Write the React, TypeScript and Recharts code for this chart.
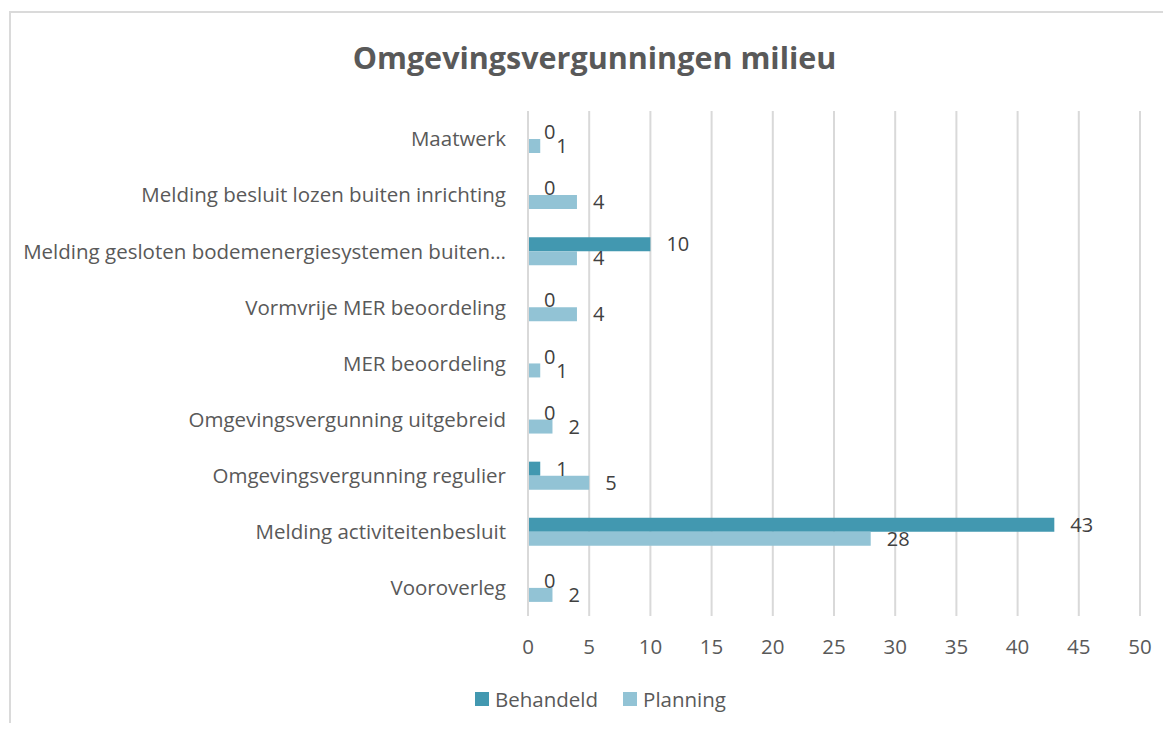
import { BarChart, Bar, XAxis, YAxis, CartesianGrid, LabelList } from 'recharts'

const categories = [
  'Maatwerk',
  'Melding besluit lozen buiten inrichting',
  'Melding gesloten bodemenergiesystemen buiten…',
  'Vormvrije MER beoordeling',
  'MER beoordeling',
  'Omgevingsvergunning uitgebreid',
  'Omgevingsvergunning regulier',
  'Melding activiteitenbesluit',
  'Vooroverleg',
]
const behandeld = [0, 0, 10, 0, 0, 0, 1, 43, 0]
const planning = [1, 4, 4, 4, 1, 2, 5, 28, 2]
const xTicks = [0, 5, 10, 15, 20, 25, 30, 35, 40, 45, 50]

const data = categories.map((name, i) => ({ name, behandeld: behandeld[i], planning: planning[i] }))

const FONT = '"Open Sans", sans-serif'
const C_BEH = '#4298b0'
const C_PLAN = '#92c3d5'

export default function App() {
  return (
    <div style={{ position: 'relative', width: 1155, height: 715, overflow: 'hidden', fontFamily: FONT }}>
      <div
        style={{
          position: 'absolute',
          left: 1,
          top: 3,
          width: 1200,
          height: 800,
          border: '2px solid #dadada',
          boxSizing: 'border-box',
        }}
      />
      <div
        style={{
          position: 'absolute',
          left: -8,
          top: 29,
          width: 1189,
          textAlign: 'center',
          fontSize: 30.5,
          fontWeight: 700,
          color: '#595959',
          lineHeight: '40px',
        }}
      >
        Omgevingsvergunningen milieu
      </div>
      <div style={{ position: 'absolute', left: -8, top: -8 }}>
        <BarChart
          width={1171}
          height={731}
          data={data}
          layout="vertical"
          margin={{ top: 111, right: 31, bottom: 85, left: 8 }}
          barSize={14}
          barGap={0}
        >
          <CartesianGrid horizontal={false} stroke="#d9d9d9" strokeWidth={2} />
          <XAxis
            type="number"
            domain={[0, 50]}
            ticks={xTicks}
            axisLine={false}
            tickLine={false}
            tickSize={6}
            tickMargin={17}
            height={30}
            tick={{ fill: '#595959', fontSize: 20.5, fontFamily: FONT }}
          />
          <YAxis
            type="category"
            dataKey="name"
            width={520}
            axisLine={{ stroke: '#d9d9d9', strokeWidth: 2 }}
            tickLine={false}
            tickSize={6}
            tickMargin={16}
            interval={0}
            tick={{ fill: '#595959', fontSize: 20.5, fontFamily: FONT }}
          />
          <Bar dataKey="behandeld" fill={C_BEH} minPointSize={0.01} isAnimationActive={false}>
            <LabelList dataKey="behandeld" position="right" offset={16} fill="#404040" fontSize={20} fontFamily={FONT} />
          </Bar>
          <Bar dataKey="planning" fill={C_PLAN} minPointSize={0.01} isAnimationActive={false}>
            <LabelList dataKey="planning" position="right" offset={16} fill="#404040" fontSize={20} fontFamily={FONT} />
          </Bar>
        </BarChart>
      </div>
      <div
        style={{
          position: 'absolute',
          left: 467,
          top: 677,
          display: 'flex',
          alignItems: 'center',
          fontSize: 20.5,
          color: '#595959',
          lineHeight: '28px',
        }}
      >
        <span style={{ width: 14, height: 14, background: C_BEH, marginRight: 6, display: 'inline-block' }} />
        <span style={{ marginRight: 25 }}>Behandeld</span>
        <span style={{ width: 14, height: 14, background: C_PLAN, marginRight: 6, display: 'inline-block' }} />
        <span>Planning</span>
      </div>
    </div>
  )
}
